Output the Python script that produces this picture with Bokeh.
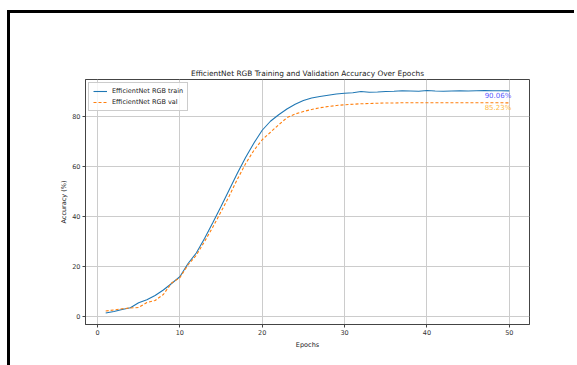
from bokeh.plotting import figure
from bokeh.models import FixedTicker, Range1d, Legend, LegendItem, ColumnDataSource
from bokeh.core.properties import value
from bokeh.embed import file_html
from bokeh.resources import INLINE

epochs = list(range(1, 51))
train_acc = [1.2, 1.8, 2.6, 3.3, 5.3, 6.5, 8.2, 10.4, 13.0, 15.7,
             21.0, 25.2, 31.0, 37.3, 43.8, 50.5, 57.2, 63.5, 69.2, 74.3,
             77.9, 80.5, 82.8, 84.7, 86.2, 87.2, 87.8, 88.3, 88.8, 89.1,
             89.3, 89.8, 89.5, 89.6, 89.8, 89.9, 90.1, 90.0, 89.9, 90.2,
             90.0, 89.9, 90.0, 90.1, 90.0, 90.1, 90.2, 90.1, 90.1, 90.06]
val_acc = [2.0, 2.4, 2.9, 3.2, 3.4, 5.4, 6.2, 8.6, 13.2, 15.3,
           20.5, 24.3, 29.8, 35.5, 41.7, 48.0, 54.8, 61.0, 66.3, 70.5,
           73.5, 76.5, 79.3, 80.8, 81.8, 82.6, 83.3, 83.8, 84.2, 84.5,
           84.7, 84.9, 85.0, 85.1, 85.2, 85.2, 85.3, 85.3, 85.3, 85.3,
           85.3, 85.3, 85.3, 85.3, 85.3, 85.3, 85.3, 85.3, 85.3, 85.23]
x_ticks = [0, 10, 20, 30, 40, 50]
y_ticks = [0, 20, 40, 60, 80]
title_text = "EfficientNet RGB Training and Validation Accuracy Over Epochs"
train_label = "EfficientNet RGB train"
val_label = "EfficientNet RGB val"
final_train_text = "90.06%"
final_val_text = "85.23%"

FONT = "DejaVu Sans"

p = figure(width=567, height=358, output_backend="svg", toolbar_location=None,
           x_range=Range1d(-1.45, 52.45), y_range=Range1d(-3.4, 94.6),
           min_border_left=75, min_border_right=48, min_border_top=66, min_border_bottom=47,
           title=title_text)
p.margin = (10, 0, 0, 7)
p.styles = {"border-left": "3px solid black", "border-top": "3px solid black"}

p.title.text_font = FONT
p.title.text_font_size = "7.4px"
p.title.text_font_style = "normal"
p.title.align = "center"
p.title.text_color = "#222222"
p.title.standoff = 4

p.background_fill_color = "white"
p.border_fill_color = "white"
p.outline_line_color = "#444444"
p.outline_line_width = 1

for ax in (p.xaxis[0], p.yaxis[0]):
    ax.major_label_text_font = FONT
    ax.major_label_text_font_size = "6.5px"
    ax.major_label_text_color = "#333333"
    ax.axis_label_text_font = FONT
    ax.axis_label_text_font_size = "6.5px"
    ax.axis_label_text_font_style = "normal"
    ax.axis_label_text_color = "#222222"
    ax.axis_line_color = "#444444"
    ax.major_tick_line_color = "#444444"
    ax.major_tick_out = 3
    ax.major_tick_in = 0
    ax.minor_tick_line_color = None
    ax.major_label_standoff = 2

p.xaxis.ticker = FixedTicker(ticks=x_ticks)
p.yaxis.ticker = FixedTicker(ticks=y_ticks)
p.xaxis.axis_label = "Epochs"
p.yaxis.axis_label = "Accuracy (%)"
p.xaxis.axis_label_standoff = 3
p.yaxis.axis_label_standoff = 1

p.xgrid.ticker = FixedTicker(ticks=x_ticks)
p.ygrid.ticker = FixedTicker(ticks=y_ticks)
p.grid.grid_line_color = "#cccccc"
p.grid.grid_line_width = 1

src = ColumnDataSource(dict(x=epochs, train=train_acc, val=val_acc))
r1 = p.line("x", "train", source=src, line_color="#1f77b4", line_width=1.1)
r2 = p.line("x", "val", source=src, line_color="#ff7f0e", line_width=1.1, line_dash="3 2")

p.text(x=[epochs[-1]], y=[train_acc[-1]], text=[final_train_text], text_color="blue",
       text_font=value(FONT), text_font_size="7px", text_align="right",
       text_baseline="top", x_offset=2, y_offset=1, text_alpha=0.7)
p.text(x=[epochs[-1]], y=[val_acc[-1]], text=[final_val_text], text_color="orange",
       text_font=value(FONT), text_font_size="7px", text_align="right",
       text_baseline="top", x_offset=2, y_offset=1, text_alpha=0.8)

legend = Legend(items=[LegendItem(label=train_label, renderers=[r1]),
                       LegendItem(label=val_label, renderers=[r2])],
                location="top_left")
legend.label_text_font = FONT
legend.label_text_font_size = "6.5px"
legend.label_text_color = "#222222"
legend.glyph_width = 14
legend.glyph_height = 8
legend.label_height = 8
legend.label_standoff = 5
legend.spacing = 3
legend.padding = 4
legend.margin = 3
legend.border_line_color = "#cccccc"
legend.border_line_alpha = 1
legend.background_fill_alpha = 0.8
p.add_layout(legend)

open("out.html", "w").write(file_html(p, INLINE))
